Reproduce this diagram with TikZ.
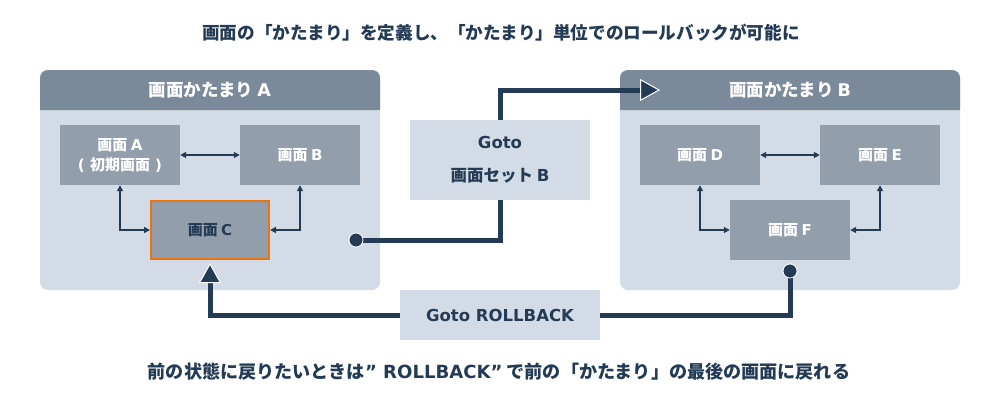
\documentclass[tikz,border=0pt]{standalone}
\usepackage{fontspec}
\setmainfont{Noto Sans CJK JP}
\newfontfamily\dv{DejaVu Sans}
\newcommand{\lt}[1]{{\dv #1}}
\usetikzlibrary{arrows.meta}
\definecolor{dk}{HTML}{243B55}
\definecolor{hdr}{HTML}{7B8A9B}
\definecolor{body}{HTML}{D3DCE6}
\definecolor{scr}{HTML}{929EAB}
\definecolor{org}{HTML}{E8750F}
\tikzset{
  screen/.style={fill=scr, minimum width=120pt, minimum height=60pt, inner sep=0pt, text=white, font=\fontsize{15}{20}\selectfont\bfseries, align=center},
  hdrtext/.style={text=white, font=\fontsize{17.5}{20}\selectfont\bfseries},
  gotobox/.style={fill=body, inner sep=0pt, text=dk, font=\fontsize{16.5}{33}\selectfont\bfseries, align=center},
  thin/.style={draw=dk, line width=1.6pt, {Triangle[length=6pt,width=6pt]}-{Triangle[length=6pt,width=6pt]}},
  thick/.style={draw=dk, line width=5pt},
  bigtip/.style={-{Triangle[length=20pt,width=22pt,fill=dk,color=white,line width=1pt]}},
  dot/.style={circle, fill=dk, draw=white, line width=0.8pt, minimum size=14pt, inner sep=0pt},
  caption/.style={text=dk, font=\fontsize{17.6}{20}\selectfont\bfseries}
}
\begin{document}
\begin{tikzpicture}[x=1pt,y=-1pt]
\useasboundingbox (0,0) rectangle (1000,400);
% titles
\node[caption] (title) at (501,33) {画面の「かたまり」を定義し、「かたまり」単位でのロールバックが可能に};
\node[caption, font=\fontsize{18.1}{20}\selectfont\bfseries] (foot) at (499,372) {前の状態に戻りたいときは\lt{” ROLLBACK”} で前の「かたまり」の最後の画面に戻れる};
% container A
\fill[body, rounded corners=8pt] (40,70) rectangle (380,290);
\fill[hdr] (40,110) [rounded corners=8pt] -- (40,70) -- (380,70) [sharp corners] -- (380,110) -- cycle;
\node[hdrtext] (hA) at (210,90) {画面かたまり \lt{A}};
% container B
\fill[body, rounded corners=8pt] (620,70) rectangle (960,290);
\fill[hdr] (620,110) [rounded corners=8pt] -- (620,70) -- (960,70) [sharp corners] -- (960,110) -- cycle;
\node[hdrtext] (hB) at (790,90) {画面かたまり \lt{B}};
% screens
\node[screen] (sA) at (120,155) {画面 \lt{A}\\\lt{( }初期画面\lt{ )}};
\node[screen] (sB) at (300,155) {画面 \lt{B}};
\node[screen, draw=org, line width=2pt, minimum width=118pt, minimum height=58pt, text=dk] (sC) at (210,230) {画面 \lt{C}};
\node[screen] (sD) at (700,155) {画面 \lt{D}};
\node[screen] (sE) at (880,155) {画面 \lt{E}};
\node[screen] (sF) at (790,230) {画面 \lt{F}};
% thin connectors
\draw[thin] (sA.east) -- (sB.west);
\draw[thin] (sA.south) |- (sC.west);
\draw[thin] (sB.south) |- (sC.east);
\draw[thin] (sD.east) -- (sE.west);
\draw[thin] (sD.south) |- (sF.west);
\draw[thin] (sE.south) |- (sF.east);
% thick connectors
\coordinate (tipB) at (660,90);
\coordinate (tipC) at (210,263);
\node[dot] (dA) at (356,240) {};
\node[dot] (dF) at (790,271) {};
\draw[thick, bigtip] (dA.center) -| (500,90) -- (tipB);
\draw[thick, bigtip] (dF.center) |- (500,315) -| (tipC);
\node[dot] at (dA) {};
\node[dot] at (dF) {};
% goto boxes
\node[gotobox, minimum width=180pt, minimum height=80pt] (gB) at (500,160) {\lt{Goto}\\画面セット \lt{B}};
\node[gotobox, minimum width=200pt, minimum height=50pt] (gR) at (500,315) {\lt{Goto ROLLBACK}};
\end{tikzpicture}
\end{document}
